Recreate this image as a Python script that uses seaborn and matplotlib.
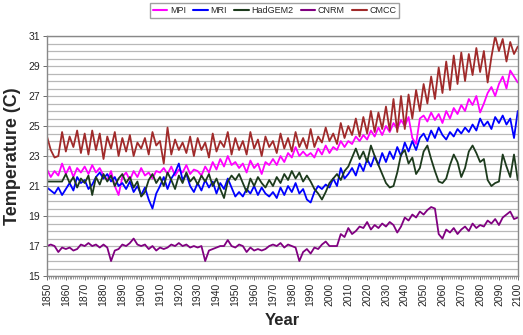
import numpy as np
import pandas as pd
import seaborn as sns
import matplotlib
matplotlib.use("Agg")
import matplotlib.pyplot as plt
from matplotlib.ticker import MultipleLocator, FixedLocator

# Annual-mean temperature projections, sampled every two years 1850-2100
years = list(range(1850, 2101, 2))

mpi = [
    22.1, 21.6, 22.0, 21.7, 22.5, 21.8, 22.3, 21.6, 22.2, 21.9,
    22.3, 21.8, 22.4, 21.9, 22.2, 21.7, 21.4, 22.0, 21.0, 20.4,
    21.6, 21.9, 21.4, 22.0, 21.6, 22.2, 21.7, 21.9, 21.5, 22.0,
    21.9, 22.2, 21.8, 22.3, 21.7, 22.1, 21.9, 22.4, 21.8, 22.1,
    22.0, 21.7, 22.3, 21.9, 22.6, 22.1, 22.8, 22.3, 23.0, 22.4,
    22.6, 22.2, 22.5, 21.9, 22.7, 22.2, 22.5, 21.8, 22.6, 22.4,
    22.8, 22.4, 23.0, 22.6, 23.2, 22.9, 23.6, 23.0, 23.3, 23.0,
    23.2, 22.9, 23.5, 23.1, 23.7, 23.2, 23.6, 23.4, 24.0, 23.6,
    24.0, 23.8, 24.3, 24.0, 24.4, 24.1, 24.7, 24.3, 24.9, 24.4,
    25.0, 24.6, 25.2, 24.8, 25.4, 25.0, 25.6, 24.2, 23.8, 25.5,
    25.7, 25.3, 25.9, 25.4, 25.8, 25.2, 26.0, 25.5, 26.2, 25.8,
    26.4, 26.0, 26.8, 26.4, 27.0, 25.9, 26.5, 27.2, 27.6, 27.0,
    27.8, 28.3, 27.5, 28.7, 28.3, 27.9,
]

mri = [
    20.9, 20.7, 20.5, 20.9, 20.4, 20.8, 21.2, 20.7, 21.6, 21.2,
    21.4, 20.8, 21.1, 21.6, 21.9, 21.5, 21.8, 21.3, 21.6, 21.0,
    21.2, 20.8, 21.3, 20.6, 21.0, 20.4, 20.9, 20.1, 19.5, 20.5,
    21.0, 21.6, 20.8, 21.5, 21.9, 22.5, 21.4, 21.8, 21.0, 20.6,
    21.2, 20.7, 21.4, 20.9, 21.3, 20.5, 21.2, 20.8, 21.5, 20.9,
    20.3, 20.6, 20.3, 20.8, 20.5, 21.0, 20.4, 20.9, 20.5, 20.3,
    20.6, 20.2, 20.9, 20.4, 21.0, 20.6, 21.2, 20.5, 20.8, 20.1,
    19.9, 20.6, 21.0, 20.8, 21.1, 20.9, 21.5, 21.0, 22.2, 21.5,
    21.8, 22.2, 21.7, 22.5, 22.0, 22.8, 22.3, 23.0, 22.4, 23.2,
    22.6, 23.3, 22.8, 23.6, 23.0, 23.9, 23.3, 24.0, 23.4, 24.2,
    24.5, 24.0, 24.7, 24.2, 24.9, 24.4, 24.1, 24.6, 24.3, 24.8,
    24.5, 24.9, 24.6, 25.1, 24.7, 25.5, 25.0, 25.3, 24.8, 25.6,
    25.2, 25.7, 25.1, 25.5, 24.2, 26.0,
]

hadgem2 = [
    21.3, 21.3, 21.3, 21.3, 21.3, 21.8, 21.2, 21.6, 20.9, 21.5,
    21.2, 21.7, 20.4, 21.6, 21.1, 21.8, 21.3, 21.7, 21.0, 21.5,
    21.8, 21.2, 21.6, 20.9, 21.3, 20.3, 20.6, 21.4, 21.8, 21.2,
    21.6, 21.0, 21.9, 21.4, 20.8, 21.7, 21.2, 21.9, 21.3, 21.6,
    21.1, 21.7, 21.3, 21.8, 21.0, 21.5, 20.8, 20.2, 21.3, 21.7,
    21.4, 21.8, 21.2, 20.6, 21.5, 21.0, 21.6, 21.2, 20.9, 21.4,
    21.0, 21.6, 21.2, 21.8, 21.4, 22.0, 21.5, 21.9, 21.3, 21.7,
    21.3, 20.8, 20.5, 20.1, 20.6, 21.2, 21.5, 21.8, 21.4, 22.0,
    22.3, 22.9, 23.5, 22.8, 23.3, 22.6, 23.7, 23.0, 22.4, 21.8,
    21.2, 20.9, 21.0, 21.9, 23.1, 23.4, 22.5, 22.9, 21.8, 22.2,
    23.3, 23.7, 22.8, 22.0, 21.3, 21.2, 21.5, 22.4, 23.1, 22.6,
    21.6, 22.2, 23.3, 23.7, 23.2, 22.6, 22.8, 21.4, 21.0, 21.2,
    21.3, 23.1, 22.3, 21.6, 23.1, 21.4,
]

cnrm = [
    17.0, 17.1, 17.0, 16.6, 16.9, 16.8, 16.9, 16.7, 16.8, 17.1,
    17.0, 17.2, 17.0, 17.1, 16.9, 17.1, 16.9, 16.0, 16.7, 16.8,
    17.1, 17.0, 17.2, 17.5, 17.1, 17.0, 17.1, 16.8, 17.0, 16.7,
    16.9, 16.8, 16.9, 17.1, 17.0, 17.2, 17.0, 17.1, 16.9, 17.0,
    16.9, 17.0, 16.0, 16.7, 16.8, 16.9, 17.0, 17.0, 17.4, 17.0,
    16.9, 17.1, 17.0, 16.6, 16.9, 16.7, 16.8, 16.7, 16.8, 17.0,
    17.1, 17.0, 17.2, 16.9, 17.1, 17.0, 16.9, 16.0, 16.6, 16.8,
    16.5, 16.9, 16.8, 17.1, 17.3, 17.0, 17.0, 17.0, 17.8, 17.6,
    18.2, 17.8, 18.0, 18.3, 18.2, 18.6, 18.1, 18.4, 18.2, 18.5,
    18.3, 18.6, 18.4, 17.9, 18.3, 18.9, 18.7, 19.1, 18.9, 19.3,
    19.1, 19.4, 19.6, 19.5, 17.8, 17.5, 18.1, 17.9, 18.2, 17.8,
    18.1, 18.3, 18.0, 18.5, 18.2, 18.4, 18.3, 18.7, 18.5, 18.8,
    18.4, 18.9, 19.1, 19.3, 18.8, 18.9,
]

cmcc = [
    24.3, 23.4, 22.9, 23.0, 24.6, 23.3, 24.3, 23.6, 24.7, 23.2,
    24.5, 23.1, 24.7, 23.4, 24.5, 22.8, 24.3, 23.5, 24.6, 23.0,
    24.2, 23.3, 24.4, 23.0, 23.9, 23.5, 24.2, 23.1, 24.6, 23.7,
    24.0, 22.5, 24.9, 23.1, 24.1, 23.4, 23.9, 23.2, 24.3, 23.0,
    24.2, 23.4, 23.9, 22.9, 24.5, 23.3, 24.0, 23.6, 24.6, 23.1,
    24.2, 23.4, 24.0, 23.1, 24.6, 23.5, 24.1, 23.0, 24.3, 23.6,
    24.0, 23.2, 24.5, 23.5, 24.2, 23.3, 24.6, 23.6, 24.2, 23.5,
    24.8, 23.6, 24.3, 23.9, 24.9, 24.0, 24.5, 23.8, 25.2, 24.2,
    25.0, 24.4, 25.5, 24.3, 25.6, 24.5, 26.0, 24.6, 25.9, 24.8,
    26.3, 24.7, 26.8, 24.6, 27.0, 24.8, 27.1, 25.5, 27.4, 26.0,
    27.8, 26.5, 28.3, 26.8, 28.9, 27.2, 29.3, 27.4, 29.7, 27.8,
    29.9, 28.0, 29.8, 28.4, 30.2, 28.6, 30.0, 27.9, 29.6, 31.0,
    30.0, 30.8, 29.3, 30.6, 29.8, 30.3,
]

models = ["MPI", "MRI", "HadGEM2", "CNRM", "CMCC"]
series = [mpi, mri, hadgem2, cnrm, cmcc]
colors = ["#FF00FF", "#0000FF", "#1C3A1C", "#800080", "#A02A2A"]
y_ticks = [15, 17, 19, 21, 23, 25, 27, 29, 31]

df = pd.concat(
    [pd.DataFrame({"Year": years, "Temperature": vals, "Model": name})
     for name, vals in zip(models, series)],
    ignore_index=True,
)

sns.set_theme(style="white")
plt.rcParams["font.family"] = ["Liberation Sans", "DejaVu Sans"]

fig = plt.figure(figsize=(5.23, 3.35), dpi=100)
ax = fig.add_axes([0.0899, 0.176, 0.9001, 0.7165])

sns.lineplot(data=df, x="Year", y="Temperature", hue="Model",
             hue_order=models, palette=dict(zip(models, colors)),
             linewidth=1.3, ax=ax, legend=False)

ax.set_xlim(1850, 2100)
ax.set_ylim(15, 31)
ax.xaxis.set_major_locator(MultipleLocator(10))
ax.xaxis.set_minor_locator(MultipleLocator(1))
ax.yaxis.set_major_locator(FixedLocator(y_ticks))
ax.yaxis.set_minor_locator(MultipleLocator(0.5))
ax.grid(which="both", axis="y", color="#B8B8B8", linewidth=0.9)
ax.set_axisbelow(True)
ax.set_facecolor("white")

ax.tick_params(axis="x", which="major", labelsize=7.5, rotation=90,
               length=3, width=0.6, color="#555555", bottom=True, pad=2)
ax.tick_params(axis="x", which="minor", length=2, width=0.4,
               color="#555555", bottom=True)
ax.tick_params(axis="y", which="major", labelsize=7.5, length=3,
               width=0.6, color="#555555", left=True, pad=2)
ax.tick_params(axis="y", which="minor", length=0)

for sp in ax.spines.values():
    sp.set_color("#888888")
    sp.set_linewidth(1.0)

ax.set_xlabel("Year", fontsize=12, fontweight="bold", labelpad=5)
ax.set_ylabel("Temperature (C)", fontsize=13, fontweight="bold", labelpad=5)

handles = [plt.Line2D([], [], color=c, linewidth=1.5) for c in colors]
fig.legend(handles, models, loc="upper center", bbox_to_anchor=(0.525, 0.995),
           ncol=5, fontsize=6.5, frameon=True, fancybox=False,
           edgecolor="#888888", handlelength=1.6, handletextpad=0.3,
           columnspacing=0.8, borderpad=0.3, borderaxespad=0.2)

fig.savefig("out.png", dpi=100)
